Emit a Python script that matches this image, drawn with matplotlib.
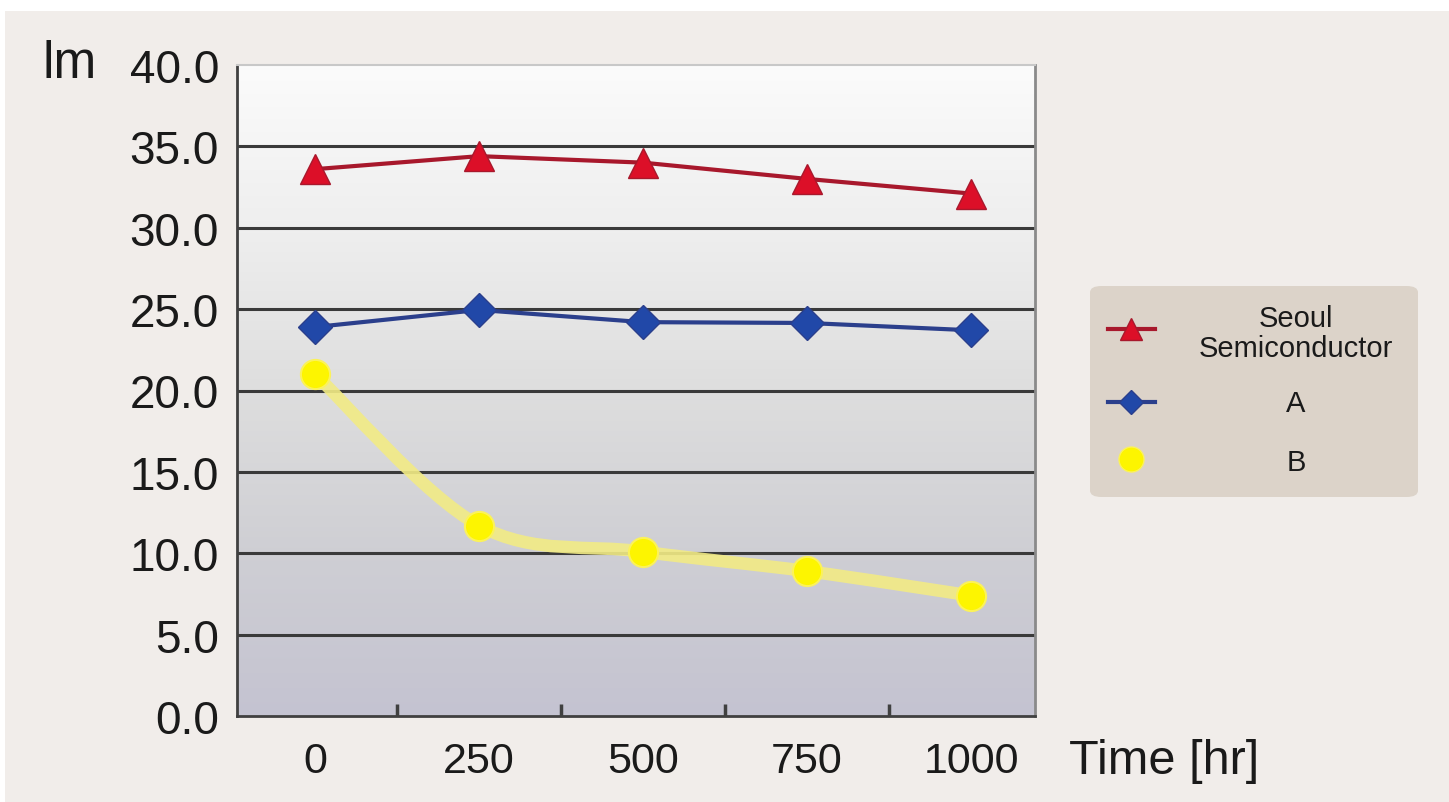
import numpy as np
import matplotlib
matplotlib.use("Agg")
import matplotlib.pyplot as plt
from matplotlib.path import Path
from matplotlib.patches import PathPatch, FancyBboxPatch, Rectangle
from matplotlib.lines import Line2D

categories = ["0", "250", "500", "750", "1000"]
seoul = [33.6, 34.4, 34.0, 33.0, 32.1]
series_a = [23.9, 24.95, 24.2, 24.15, 23.7]
series_b = [21.0, 11.7, 10.1, 8.9, 7.4]
yticks = [0, 5, 10, 15, 20, 25, 30, 35, 40]
legend_labels = ["Seoul\nSemiconductor", "A", "B"]

plt.rcParams['font.family'] = ['Liberation Sans', 'DejaVu Sans']

W, H = 1449, 803
fig = plt.figure(figsize=(W / 100, H / 100), dpi=100, facecolor='white')
fig.patches.append(Rectangle((5 / W, 0), 1, 1 - 12 / H, transform=fig.transFigure,
                             facecolor='#f1edea', edgecolor='none', zorder=-10))

ax = fig.add_axes([237 / W, 1 - 717 / H, (1035 - 237) / W, (717 - 66) / H])
ax.set_facecolor('none')

# gradient background
cols = np.array([[0.985, 0.985, 0.985], [0.935, 0.935, 0.935], [0.87, 0.87, 0.87],
                 [0.81, 0.81, 0.83], [0.77, 0.765, 0.82]])
n = 256
t = np.linspace(0, 1, n)
pos = np.linspace(0, 1, len(cols))
grad = np.stack([np.interp(t, pos, cols[:, c]) for c in range(3)], axis=1)
ax.imshow(grad[:, None, :], extent=[0, 1, 0, 1], transform=ax.transAxes,
          aspect='auto', zorder=0, interpolation='bilinear')

x = np.arange(len(categories))
ax.set_xlim(-0.476, 4.39)
ax.set_ylim(0, 40)

for yv in yticks[1:-1]:
    ax.axhline(yv, color='#3a3a3a', lw=2.2, zorder=1)

# smooth line for B (cubic Bezier through the points)
def smooth_path(xs, ys, k=1 / 6):
    xs = np.asarray(xs, float); ys = np.asarray(ys, float)
    verts = [(xs[0], ys[0])]; codes = [Path.MOVETO]
    m = len(xs)
    for i in range(m - 1):
        p0 = (xs[max(i - 1, 0)], ys[max(i - 1, 0)])
        p1 = (xs[i], ys[i]); p2 = (xs[i + 1], ys[i + 1])
        p3 = (xs[min(i + 2, m - 1)], ys[min(i + 2, m - 1)])
        c1 = (p1[0] + (p2[0] - p0[0]) * k, p1[1] + (p2[1] - p0[1]) * k)
        c2 = (p2[0] - (p3[0] - p1[0]) * k, p2[1] - (p3[1] - p1[1]) * k)
        verts += [c1, c2, p2]; codes += [Path.CURVE4] * 3
    return Path(verts, codes)

ax.add_patch(PathPatch(smooth_path(x, series_b), facecolor='none', edgecolor='#f2eb85',
                       lw=9, alpha=0.9, zorder=3, capstyle='round'))
ax.plot(x, series_b, linestyle='none', marker='o', ms=21, color='#fdf500',
        mec='#fbf25a', mew=1.5, zorder=4)

ax.plot(x, series_a, color='#2b3f8c', lw=3, marker='D', ms=17, mfc='#2148a8',
        mec='#2b3f8c', zorder=5)
ax.plot(x, seoul, color='#a8182c', lw=3, marker='^', ms=21, mfc='#dc0f28',
        mec='#a8182c', zorder=6)

for s in ['left', 'bottom']:
    ax.spines[s].set_color('#404040'); ax.spines[s].set_linewidth(2)
ax.spines['right'].set_color('#8a8a8a'); ax.spines['right'].set_linewidth(2)
ax.spines['top'].set_color('#c8c8c8'); ax.spines['top'].set_linewidth(1.5)

ax.set_yticks(yticks)
ax.set_yticklabels([f"{v:.1f}" for v in yticks])
ax.tick_params(axis='y', length=0, pad=13, labelsize=33, labelcolor='#1a1a1a')
ax.set_xticks(x)
ax.set_xticklabels(categories)
ax.tick_params(axis='x', which='major', length=0, pad=18, labelsize=31, labelcolor='#1a1a1a')
ax.set_xticks(x[:-1] + 0.5, minor=True)
ax.tick_params(axis='x', which='minor', length=9, width=2.5, color='#404040', direction='in')

fig.text(42 / W, 1 - 65 / H, "lm", fontsize=37, color='#1a1a1a', va='center', ha='left')
fig.text(1069 / W, 1 - 762 / H, "Time [hr]", fontsize=35, color='#1a1a1a', va='center', ha='left')

# legend box
lx0, lx1, ly0, ly1 = 1090, 1418, 287, 498
fig.patches.append(FancyBboxPatch((lx0 / W, 1 - ly1 / H), (lx1 - lx0) / W, (ly1 - ly0) / H,
                                  boxstyle='round,pad=0,rounding_size=0.008',
                                  transform=fig.transFigure, facecolor='#dcd3c9',
                                  edgecolor='none', zorder=1))
hx = [1108 / W, 1155 / W]
hxc = [1131 / W]
hy = [330, 403, 460]
line_styles = [dict(color='#a8182c', lw=3), dict(color='#2b3f8c', lw=3), None]
mark_styles = [dict(marker='^', ms=16, mfc='#dc0f28', mec='#a8182c'),
               dict(marker='D', ms=12, mfc='#2148a8', mec='#2b3f8c'),
               dict(marker='o', ms=18, mfc='#fdf500', mec='#fbf25a')]
for yy, ls, ms in zip(hy, line_styles, mark_styles):
    if ls is not None:
        fig.lines.append(Line2D(hx, [1 - yy / H] * 2, transform=fig.transFigure,
                                zorder=3, **ls))
    fig.lines.append(Line2D(hxc, [1 - yy / H], transform=fig.transFigure,
                            linestyle='none', zorder=4, **ms))
for yy, lab in zip([334, 404, 463], legend_labels):
    fig.text(1296 / W, 1 - yy / H, lab, ha='center', va='center', fontsize=21,
             color='#1a1a1a', linespacing=1.05)

fig.savefig("out.png", dpi=100, facecolor=fig.get_facecolor())
